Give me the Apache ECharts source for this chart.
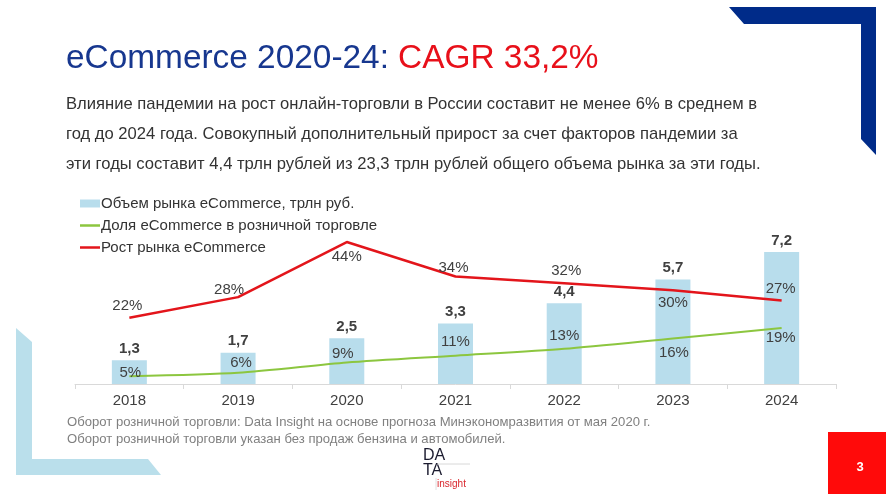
<!DOCTYPE html>
<html>
<head>
<meta charset="utf-8">
<script src="https://cdn.jsdelivr.net/npm/echarts@6/dist/echarts.min.js"></script>
<style>
html,body{margin:0;padding:0;background:#fff;}
#c{width:886px;height:494px;}
</style>
</head>
<body>
<div id="c"></div>
<script>
// ---- data ----
const years = ['2018', '2019', '2020', '2021', '2022', '2023', '2024'];
const marketVolume = [1.3, 1.7, 2.5, 3.3, 4.4, 5.7, 7.2];      // трлн руб.
const retailShare = [5, 6, 9, 11, 13, 16, 19];                 // %
const marketGrowth = [22, 28, 44, 34, 32, 30, 27];             // %
const seriesNames = ['Объем рынка eCommerce, трлн руб.', 'Доля eCommerce в розничной торговле', 'Рост рынка eCommerce'];
const titleMain = 'eCommerce 2020-24:';
const titleAccent = 'CAGR 33,2%';
const subtitleLines = [
  'Влияние пандемии на рост онлайн-торговли в России составит не менее 6% в среднем в',
  'год до 2024 года. Совокупный дополнительный прирост за счет факторов пандемии за',
  'эти годы составит 4,4 трлн рублей из 23,3 трлн рублей общего объема рынка за эти годы.'
];
const footnoteLines = [
  'Оборот розничной торговли: Data Insight на основе прогноза Минэкономразвития от мая 2020 г.',
  'Оборот розничной торговли указан без продаж бензина и автомобилей.'
];
const pageNumber = '3';

// ---- label placement (style, separate from data) ----
const growthLabelOffsets = [[-2,-12],[-9,-7],[0,15],[-2,-9],[2,-13],[0,13],[-1,-12]];
const shareLabelOffsets = [[1,-3],[3,-10],[-4,-9],[0,-14],[0,-13],[1,14],[-1,10]];

const FONT = '"Liberation Sans", Arial, sans-serif';
const TXT = '#404040';

function withOffsets(values, offsets) {
  return values.map((v, i) => ({ value: v, label: { offset: offsets[i] } }));
}

const chart = echarts.init(document.getElementById('c'), null, { renderer: 'canvas' });
chart.setOption({
  animation: false,
  backgroundColor: '#ffffff',
  textStyle: { fontFamily: FONT },
  title: [
    {
      text: '{a|' + titleMain + '} {b|' + titleAccent + '}',
      left: 66, top: 42, padding: 0,
      textStyle: {
        fontWeight: 'normal', fontSize: 33,
        rich: {
          a: { fontFamily: FONT, fontSize: 33.4, fontWeight: 'normal', color: '#17378F' },
          b: { fontFamily: FONT, fontSize: 33.4, fontWeight: 'normal', color: '#E8101A' }
        }
      }
    },
    {
      text: subtitleLines.join('\n'),
      left: 66, top: 89, padding: 0,
      textStyle: { fontFamily: FONT, fontSize: 16.6, fontWeight: 'normal', color: '#333333', lineHeight: 30 }
    },
    {
      text: footnoteLines.join('\n'),
      left: 67, top: 414, padding: 0,
      textStyle: { fontFamily: FONT, fontSize: 13.1, fontWeight: 'normal', color: '#808080', lineHeight: 17 }
    }
  ],
  legend: {
    orient: 'vertical',
    left: 80, top: 196, padding: 0,
    itemWidth: 20, itemHeight: 8, itemGap: 7,
    textStyle: { fontFamily: FONT, fontSize: 15, color: '#333333', padding: [0, 0, 0, -4] },
    data: [
      { name: seriesNames[0], icon: 'rect' },
      { name: seriesNames[1], icon: 'path://M0,0H8V1H0Z' },
      { name: seriesNames[2], icon: 'path://M0,0H8V1H0Z' }
    ]
  },
  grid: { left: 75, right: 50, top: 219, bottom: 110, containLabel: false },
  xAxis: {
    type: 'category',
    data: years,
    boundaryGap: true,
    axisLine: { show: true, lineStyle: { color: '#D9D9D9', width: 1 } },
    axisTick: { show: true, length: 5, lineStyle: { color: '#D9D9D9' } },
    axisLabel: { fontFamily: FONT, fontSize: 15, color: TXT, margin: 9 }
  },
  yAxis: [
    { type: 'value', min: 0, max: 9, show: false, splitLine: { show: false } },
    { type: 'value', min: 2.76, max: 50.7, show: false, splitLine: { show: false } }
  ],
  series: [
    {
      name: seriesNames[0],
      type: 'bar',
      yAxisIndex: 0,
      data: marketVolume,
      barWidth: 35,
      itemStyle: { color: '#B8DDEC' },
      label: {
        show: true, position: 'top', distance: 4,
        fontFamily: FONT, fontSize: 15, fontWeight: 'bold', color: TXT,
        formatter: p => p.value.toFixed(1).replace('.', ',')
      },
      z: 1
    },
    {
      name: seriesNames[1],
      type: 'line',
      yAxisIndex: 1,
      data: withOffsets(retailShare, shareLabelOffsets),
      smooth: 0.25,
      symbol: 'circle', symbolSize: 0, showSymbol: true,
      lineStyle: { color: '#8CC63F', width: 2 },
      itemStyle: { color: '#8CC63F' },
      label: {
        show: true, position: 'inside',
        fontFamily: FONT, fontSize: 15, color: TXT,
        formatter: '{c}%'
      },
      z: 3
    },
    {
      name: seriesNames[2],
      type: 'line',
      yAxisIndex: 1,
      data: withOffsets(marketGrowth, growthLabelOffsets),
      symbol: 'circle', symbolSize: 0, showSymbol: true,
      lineStyle: { color: '#E3151B', width: 2.5 },
      itemStyle: { color: '#E3151B' },
      label: {
        show: true, position: 'inside',
        fontFamily: FONT, fontSize: 15, color: TXT,
        formatter: '{c}%'
      },
      z: 4
    }
  ],
  graphic: [
    { type: 'polygon', shape: { points: [[729,7],[876,7],[876,155],[861,139],[861,24],[744,24]] }, style: { fill: '#002B89' }, z: 0 },
    { type: 'polygon', shape: { points: [[16,328],[32,342],[32,459],[148,459],[161,475],[16,475]] }, style: { fill: '#BADFEB' }, z: 0 },
    { type: 'rect', shape: { x: 828, y: 432, width: 58, height: 62 }, style: { fill: '#FF0A0A' }, z: 0 },
    { type: 'text', x: 860, y: 467, style: { text: pageNumber, fill: '#ffffff', font: 'bold 13px ' + FONT, align: 'center', verticalAlign: 'middle' }, z: 1 },
    { type: 'text', x: 423, y: 456, style: { text: 'DA', fill: '#1B1B2F', font: '16px ' + FONT, verticalAlign: 'middle' }, z: 1 },
    { type: 'text', x: 423, y: 471, style: { text: 'TA', fill: '#1B1B2F', font: '16px ' + FONT, verticalAlign: 'middle' }, z: 1 },
    { type: 'text', x: 437, y: 484, style: { text: 'insight', fill: '#D9272E', font: '10px ' + FONT, verticalAlign: 'middle' }, z: 1 },
    { type: 'line', shape: { x1: 437, y1: 464, x2: 470, y2: 464 }, style: { stroke: '#D8D8D8', lineWidth: 1 }, z: 1 },
    { type: 'line', shape: { x1: 436, y1: 478, x2: 436, y2: 490 }, style: { stroke: '#E0E0E0', lineWidth: 1 }, z: 1 }
  ]
});
</script>
</body>
</html>
